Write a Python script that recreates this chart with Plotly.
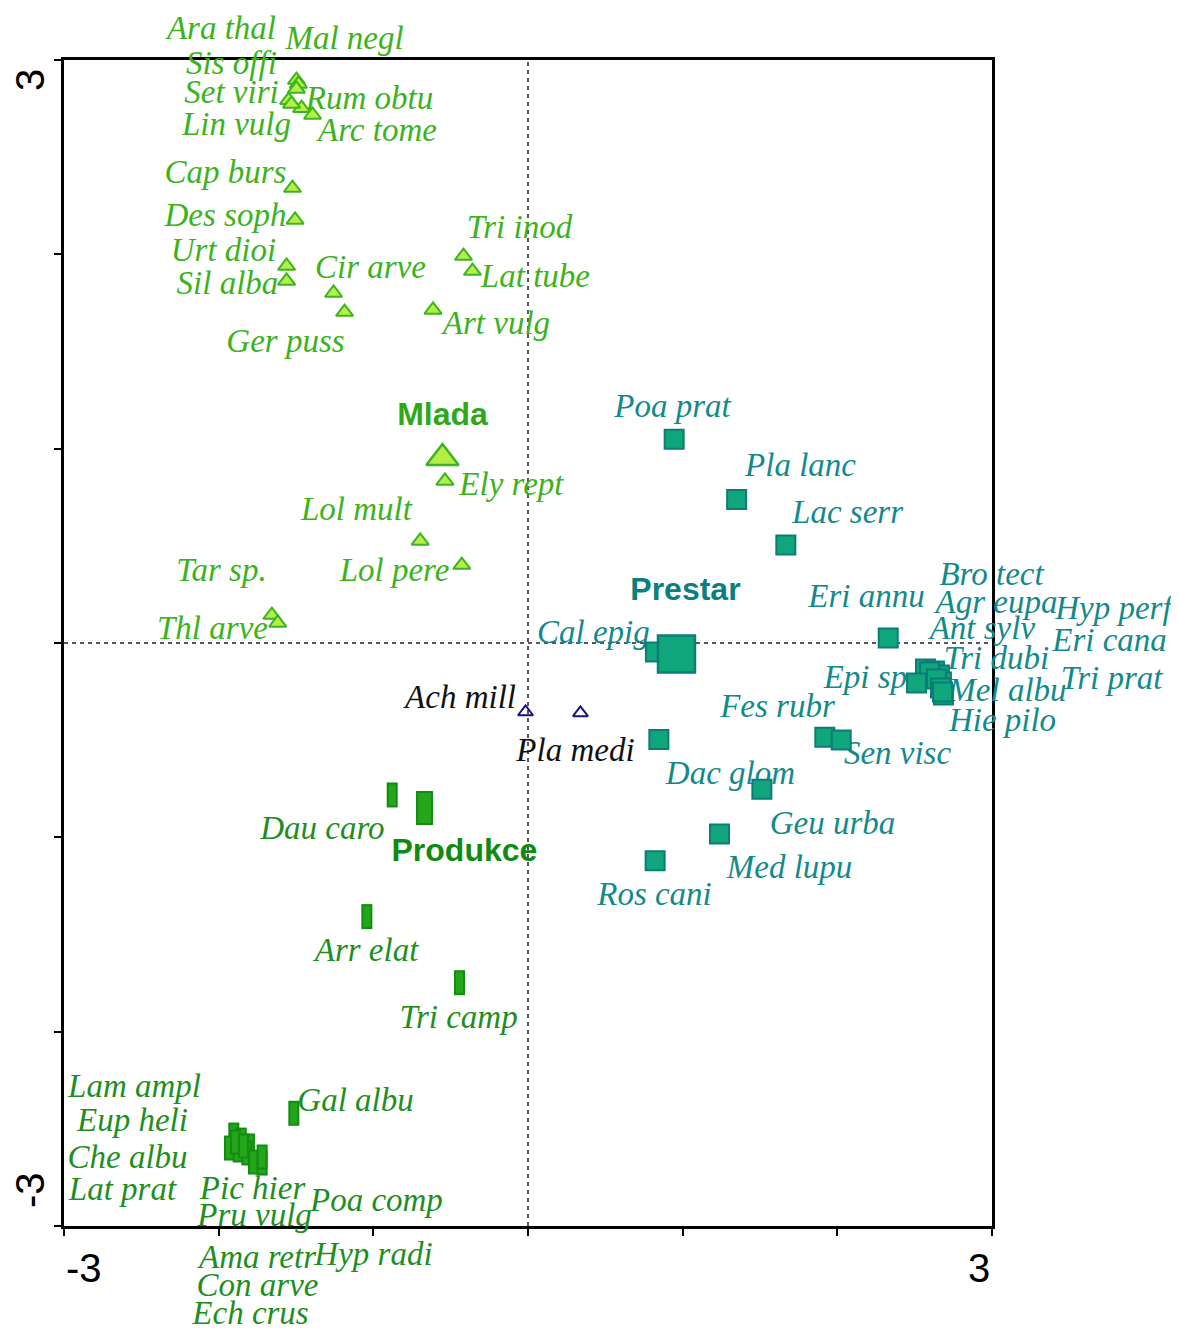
import plotly.graph_objects as go

# ---------------- data ----------------
# Mlada group (light green triangles)
mlada_names = ["Ara thal", "Mal negl", "Sis offi", "Set viri", "Rum obtu", "Lin vulg", "Arc tome",
               "Cap burs", "Des soph", "Urt dioi", "Sil alba", "Cir arve", "Ger puss",
               "Tri inod", "Lat tube", "Art vulg", "Ely rept", "Lol mult", "Tar sp.", "Thl arve", "Lol pere"]
mlada_x = [-1.497, -1.484, -1.497, -1.548, -1.464, -1.529, -1.393,
           -1.523, -1.506, -1.561, -1.561, -1.257, -1.186,
           -0.417, -0.359, -0.614, -0.537, -0.697, -1.656, -1.618, -0.428]
mlada_y = [2.897, 2.877, 2.851, 2.793, 2.752, 2.774, 2.717,
           2.341, 2.177, 1.940, 1.863, 1.801, 1.703,
           1.991, 1.914, 1.714, 0.834, 0.525, 0.144, 0.103, 0.401]
mlada_lab_x = [-1.982, -1.186, -1.917, -1.917, -1.025, -1.885, -0.973,
               -1.956, -1.956, -1.969, -1.943, -1.018, -1.568,
               -0.055, 0.048, -0.204, -0.107, -1.109, -1.982, -2.040, -0.863]
mlada_lab_y = [3.150, 3.098, 2.970, 2.820, 2.790, 2.656, 2.625,
               2.409, 2.188, 2.008, 1.837, 1.920, 1.539,
               2.129, 1.873, 1.632, 0.803, 0.675, 0.361, 0.062, 0.361]

# Navy open triangles
other_names = ["Ach mill", "Pla medi"]
other_x = [-0.016, 0.339]
other_y = [-0.355, -0.360]
other_lab_x = [-0.436, 0.307]
other_lab_y = [-0.293, -0.566]

# Prestar group (teal squares)
prestar_names = ["Poa prat", "Pla lanc", "Lac serr", "Cal epig", "Eri annu",
                 "Bro tect", "Agr eupa", "Hyp perf", "Ant sylv", "Eri cana", "Tri dubi",
                 "Epi sp.", "Mel albu", "Tri prat", "Hie pilo",
                 "Fes rubr", "Sen visc", "Dac glom", "Geu urba", "Med lupu", "Ros cani"]
prestar_x = [0.945, 1.349, 1.667, 0.824, 2.329,
             2.570, 2.628, 2.660, 2.596, 2.673, 2.641,
             2.512, 2.686, 2.667, 2.680,
             1.919, 2.025, 0.846, 1.512, 1.238, 0.822]
prestar_y = [1.048, 0.739, 0.504, -0.046, 0.026,
             -0.134, -0.144, -0.165, -0.149, -0.201, -0.185,
             -0.206, -0.268, -0.232, -0.252,
             -0.485, -0.499, -0.496, -0.753, -0.983, -1.120]
prestar_lab_x = [0.934, 1.762, 2.066, 0.423, 2.189,
                 2.997, 3.029, 3.785, 2.938, 3.760, 3.029,
                 2.208, 3.100, 3.773, 3.068,
                 1.613, 2.389, 1.309, 1.969, 1.691, 0.818]
prestar_lab_y = [1.205, 0.901, 0.659, 0.042, 0.227,
                 0.340, 0.196, 0.165, 0.062, 0.000, -0.092,
                 -0.190, -0.257, -0.195, -0.411,
                 -0.339, -0.581, -0.684, -0.941, -1.168, -1.307]

# Produkce group (green rectangles)
produkce_names = ["Dau caro", "Arr elat", "Tri camp", "Gal albu",
                  "Lam ampl", "Eup heli", "Che albu", "Lat prat", "Pic hier", "Pru vulg",
                  "Poa comp", "Ama retr", "Hyp radi", "Con arve", "Ech crus"]
produkce_x = [-0.878, -1.042, -0.443, -1.514,
              -1.902, -1.854, -1.930, -1.874, -1.801, -1.818,
              -1.775, -1.719, -1.719, -1.891, -1.839]
produkce_y = [-0.782, -1.408, -1.748, -2.420,
              -2.532, -2.558, -2.599, -2.609, -2.588, -2.624,
              -2.671, -2.676, -2.645, -2.568, -2.588]
produkce_lab_x = [-1.329, -1.044, -0.449, -1.115,
                  -2.544, -2.557, -2.589, -2.622, -1.781, -1.768,
                  -0.980, -1.749, -0.999, -1.749, -1.794]
produkce_lab_y = [-0.967, -1.595, -1.940, -2.367,
                  -2.295, -2.470, -2.660, -2.825, -2.820, -2.958,
                  -2.881, -3.174, -3.159, -3.319, -3.463]

# Supplementary (group centroids)
group_names = ["Mlada", "Prestar", "Produkce"]
group_x = [-0.553, 0.960, -0.669]
group_y = [0.952, -0.057, -0.849]
group_lab_x = [-0.553, 1.018, -0.411]
group_lab_y = [1.163, 0.263, -1.080]

axis_ticks = [-3, -2, -1, 0, 1, 2, 3]
axis_end_labels = ["-3", "3"]

# ---------------- layout geometry ----------------
W, H = 1179, 1331
OFF = 8                      # page offset of the figure (body margin)
FL, FR, FT, FB = 64 - OFF, 992 - OFF, 60 - OFF, 1226 - OFF   # frame edges in figure px
XMIN, XMAX = axis_ticks[0], axis_ticks[-1]
YMIN, YMAX = axis_ticks[0], axis_ticks[-1]
sx = (FR - FL) / (XMAX - XMIN)
sy = (FB - FT) / (YMAX - YMIN)
x2_range = [XMIN - FL / sx, XMAX + (W - FR) / sx]
y2_range = [YMIN - (H - FB) / sy, YMAX + FT / sy]

# ---------------- styles ----------------
C_MLADA_TXT = "#3cb31c"
C_MLADA_FILL = "#b4ef48"
C_MLADA_LINE = "#3cb521"
C_PRES_TXT = "#138a8a"
C_PRES_FILL = "#10a67c"
C_PRES_LINE = "#0b7d78"
C_PROD_TXT = "#1e8f1e"
C_PROD_FILL = "#25a51a"
C_PROD_LINE = "#128c12"
C_NAVY = "#1a1080"

SERIF = "Liberation Serif, Times New Roman, serif"
SANS = "Liberation Sans, Arial, sans-serif"
LAB_SIZE = 33

fig = go.Figure()

# invisible trace to keep the frame subplot (x, y)
fig.add_trace(go.Scatter(x=[None], y=[None], xaxis="x", yaxis="y", showlegend=False, hoverinfo="skip"))

XA, YA = "x2", "y2"   # full-figure data layer with identical scale


def add_labels(xs, ys, names, color, family=SERIF, size=LAB_SIZE, style="italic", weight="normal"):
    fig.add_trace(go.Scatter(
        x=xs, y=ys, text=names, mode="text", textposition="middle center", xaxis=XA, yaxis=YA,
        textfont=dict(family=family, size=size, color=color, style=style, weight=weight),
        cliponaxis=False, showlegend=False, hoverinfo="skip"))


# labels first (markers are drawn on top of them, as in the reference)
add_labels(mlada_lab_x, mlada_lab_y, mlada_names, C_MLADA_TXT)
add_labels(other_lab_x, other_lab_y, other_names, "#111111")
add_labels(prestar_lab_x, prestar_lab_y, prestar_names, C_PRES_TXT)
add_labels(produkce_lab_x, produkce_lab_y, produkce_names, C_PROD_TXT)
add_labels(group_lab_x[:1], group_lab_y[:1], group_names[:1], "#2ea81a", family=SANS, size=32, style="normal", weight="bold")
add_labels(group_lab_x[1:2], group_lab_y[1:2], group_names[1:2], "#0a7f7f", family=SANS, size=32, style="normal", weight="bold")
add_labels(group_lab_x[2:], group_lab_y[2:], group_names[2:], "#118a11", family=SANS, size=32, style="normal", weight="bold")

# triangles (Mlada species)
fig.add_trace(go.Scatter(
    x=mlada_x, y=mlada_y, mode="markers", xaxis=XA, yaxis=YA, cliponaxis=False, showlegend=False,
    marker=dict(symbol="triangle-up", size=15, color=C_MLADA_FILL,
                line=dict(color=C_MLADA_LINE, width=2))))
# Mlada centroid
fig.add_trace(go.Scatter(
    x=group_x[:1], y=group_y[:1], mode="markers", xaxis=XA, yaxis=YA, showlegend=False,
    marker=dict(symbol="triangle-up", size=28, color=C_MLADA_FILL,
                line=dict(color=C_MLADA_LINE, width=2.5))))

# navy open triangles
fig.add_trace(go.Scatter(
    x=other_x, y=other_y, mode="markers", xaxis=XA, yaxis=YA, showlegend=False,
    marker=dict(symbol="triangle-up-open", size=13, color=C_NAVY, line=dict(width=2))))

# teal squares
fig.add_trace(go.Scatter(
    x=prestar_x, y=prestar_y, mode="markers", xaxis=XA, yaxis=YA, cliponaxis=False, showlegend=False,
    marker=dict(symbol="square", size=19, color=C_PRES_FILL,
                line=dict(color=C_PRES_LINE, width=2))))
fig.add_trace(go.Scatter(
    x=group_x[1:2], y=group_y[1:2], mode="markers", xaxis=XA, yaxis=YA, showlegend=False,
    marker=dict(symbol="square", size=37, color=C_PRES_FILL,
                line=dict(color=C_PRES_LINE, width=2.5))))


# green upright rectangles (thick vertical line markers: outline + fill)
def add_rect(x, y, w, h):
    fig.add_trace(go.Scatter(
        x=[x], y=[y], mode="markers", xaxis=XA, yaxis=YA, showlegend=False, hoverinfo="skip",
        marker=dict(symbol="line-ns-open", size=h / 1.4, color=C_PROD_LINE, line=dict(width=w))))
    fig.add_trace(go.Scatter(
        x=[x], y=[y], mode="markers", xaxis=XA, yaxis=YA, showlegend=False, hoverinfo="skip",
        marker=dict(symbol="line-ns-open", size=(h - 4) / 1.4, color=C_PROD_FILL, line=dict(width=w - 4))))


for px_, py_ in zip(produkce_x, produkce_y):
    add_rect(px_, py_, 11, 25)
add_rect(group_x[2], group_y[2], 17, 34)

# dashed zero lines
fig.add_shape(type="line", xref="x", yref="y", x0=0, x1=0, y0=YMIN, y1=YMAX,
              line=dict(color="#222222", width=1.5, dash="4px,4px"), layer="below")
fig.add_shape(type="line", xref="x", yref="y", x0=XMIN, x1=XMAX, y0=0, y1=0,
              line=dict(color="#222222", width=1.5, dash="4px,4px"), layer="below")

axis_common = dict(showgrid=False, zeroline=False, showline=True,
                   linecolor="black", linewidth=3, mirror=True, ticks="outside",
                   ticklen=7, tickwidth=2, tickcolor="black",
                   tickvals=axis_ticks, showticklabels=False)
fig.update_layout(
    xaxis=dict(domain=[FL / W, FR / W], range=[XMIN, XMAX], anchor="y", **axis_common),
    yaxis=dict(domain=[1 - FB / H, 1 - FT / H], range=[YMIN, YMAX], anchor="x", **axis_common),
    xaxis2=dict(domain=[0, 1], range=x2_range, anchor="y2", visible=False, fixedrange=True),
    yaxis2=dict(domain=[0, 1], range=y2_range, anchor="x2", visible=False, fixedrange=True),
)

# end labels of the axes
tick_font = dict(family=SANS, size=40, color="black")
fig.add_annotation(x=XMIN, y=0, xref="x", yref="y domain", text=axis_end_labels[0],
                   showarrow=False, xanchor="left", yanchor="middle", yshift=-42, font=tick_font)
fig.add_annotation(x=XMAX, y=0, xref="x", yref="y domain", text=axis_end_labels[1],
                   showarrow=False, xanchor="right", yanchor="middle", yshift=-42, font=tick_font)
fig.add_annotation(x=0, y=1, xref="x domain", yref="y domain", text=axis_end_labels[1], textangle=-90,
                   showarrow=False, xanchor="center", yanchor="middle", xshift=-34, yshift=-20, font=tick_font)
fig.add_annotation(x=0, y=0, xref="x domain", yref="y domain", text=axis_end_labels[0], textangle=-90,
                   showarrow=False, xanchor="center", yanchor="middle", xshift=-34, yshift=36, font=tick_font)

fig.update_layout(
    width=W, height=H,
    margin=dict(l=0, r=0, t=0, b=0, pad=0, autoexpand=False),
    plot_bgcolor="rgba(0,0,0,0)", paper_bgcolor="white",
    showlegend=False,
)

fig.write_html("out.html")
